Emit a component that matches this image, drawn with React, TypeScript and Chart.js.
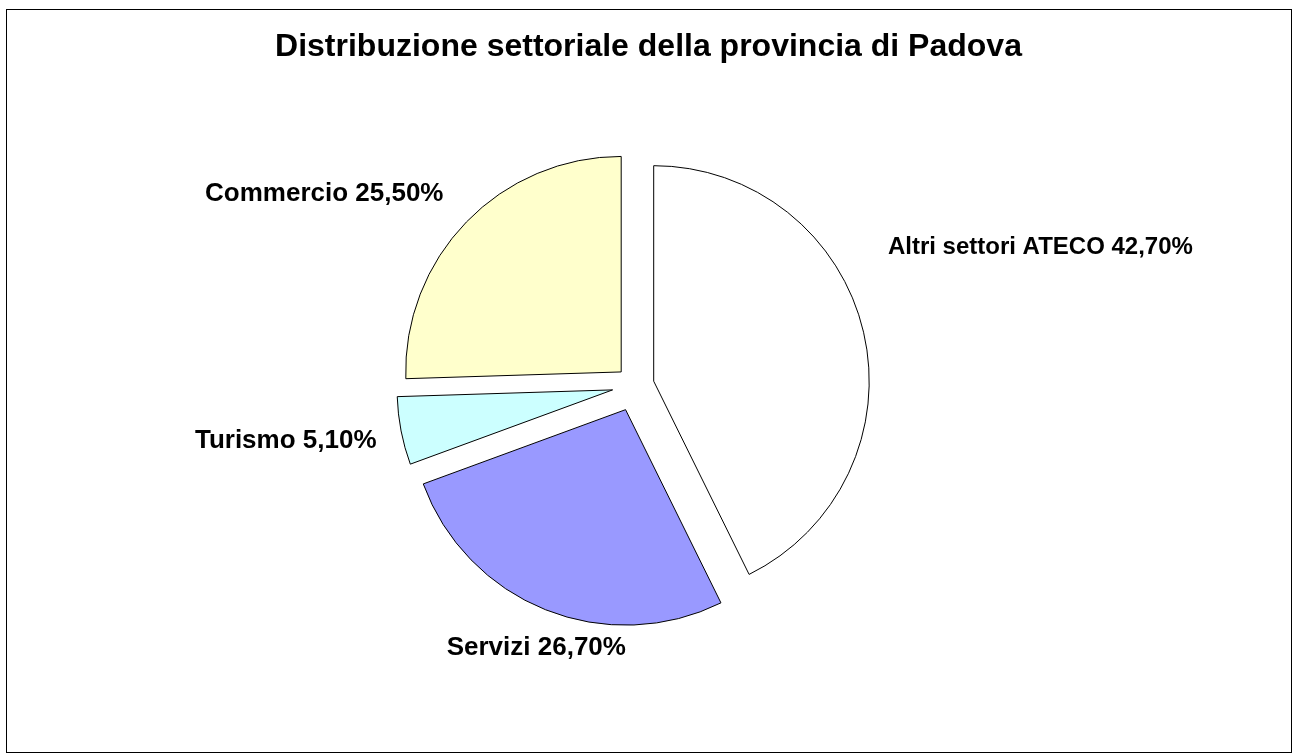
import React, { useEffect, useRef } from 'react';
import { Chart, registerables } from 'chart.js';

Chart.register(...registerables);

const TITLE = 'Distribuzione settoriale della provincia di Padova';
const categories = ['Altri settori ATECO', 'Servizi', 'Turismo', 'Commercio'];
const percentages = [42.7, 26.7, 5.1, 25.5];
const percentLabels = ['42,70%', '26,70%', '5,10%', '25,50%'];
const sliceColors = ['#FFFFFF', '#9999FF', '#CCFFFF', '#FFFFCC'];
const explode = [19, 26, 23, 19.5];
const labelNudgeX = [0, 0, 0, -5];
const labelNudgeY = [-79, 2, 5, 2.5];
const labelFontSize = [24, 26, 26, 26];

const FONT = '"Liberation Sans", Arial, Helvetica, sans-serif';

export default function App() {
  const ref = useRef<HTMLCanvasElement>(null);

  useEffect(() => {
    const canvas = ref.current;
    if (!canvas) return;

    const explodePlugin = {
      id: 'explodeSlices',
      afterDatasetsUpdate(chart: any) {
        const meta = chart.getDatasetMeta(0);
        meta.data.forEach((arc: any, i: number) => {
          const mid = (arc.startAngle + arc.endAngle) / 2;
          arc.x += Math.cos(mid) * explode[i];
          arc.y += Math.sin(mid) * explode[i];
        });
      },
    };

    const decorPlugin = {
      id: 'decor',
      afterDatasetsDraw(chart: any) {
        const ctx = chart.ctx as CanvasRenderingContext2D;
        const meta = chart.getDatasetMeta(0);
        ctx.save();
        ctx.fillStyle = '#000';
        meta.data.forEach((arc: any, i: number) => {
          const mid = (arc.startAngle + arc.endAngle) / 2;
          const c = Math.cos(mid);
          const s = Math.sin(mid);
          const d = arc.outerRadius + 25;
          const ax = arc.x + c * d + labelNudgeX[i];
          const ay = arc.y + s * d + labelNudgeY[i];
          ctx.font = `bold ${labelFontSize[i]}px ${FONT}`;
          ctx.textAlign = c > 0.5 ? 'left' : c < -0.5 ? 'right' : 'center';
          ctx.textBaseline = s < -0.5 ? 'bottom' : s > 0.5 ? 'top' : 'middle';
          ctx.fillText(`${categories[i]} ${percentLabels[i]}`, ax, ay);
        });
        // title
        ctx.font = `bold 32px ${FONT}`;
        ctx.textAlign = 'center';
        ctx.textBaseline = 'alphabetic';
        ctx.fillText(TITLE, 648.5, 56);
        // frame
        ctx.strokeStyle = '#000';
        ctx.lineWidth = 1;
        ctx.strokeRect(6.5, 9.5, 1285, 743);
        ctx.restore();
      },
    };

    const chart = new Chart(canvas, {
      type: 'pie',
      data: {
        labels: categories,
        datasets: [
          {
            data: percentages,
            backgroundColor: sliceColors,
            borderColor: '#000000',
            borderWidth: 1,
            borderJoinStyle: 'miter',
            radius: 215.5,
          } as any,
        ],
      },
      options: {
        animation: false,
        responsive: true,
        maintainAspectRatio: false,
        layout: { padding: { left: 0, right: 22.6, top: 15, bottom: 0 } },
        plugins: {
          legend: { display: false },
          tooltip: { enabled: false },
          title: { display: false },
        },
      },
      plugins: [explodePlugin, decorPlugin],
    });

    return () => chart.destroy();
  }, []);

  return (
    <div style={{ position: 'fixed', left: 0, top: 0, width: 1293, height: 756, background: '#fff' }}>
      <canvas ref={ref} />
    </div>
  );
}
